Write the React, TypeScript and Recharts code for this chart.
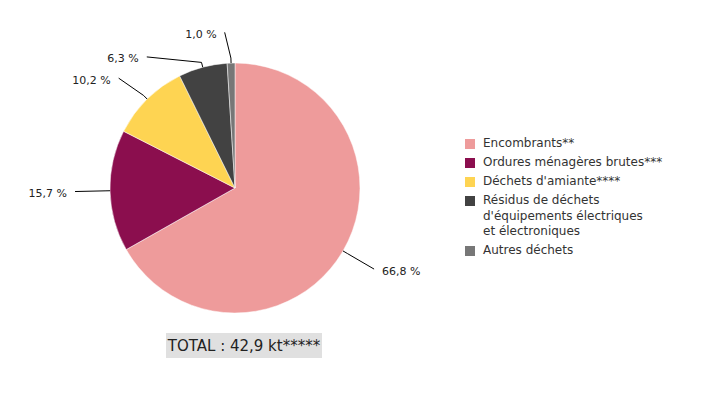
import React from 'react';
import { PieChart, Pie, Cell, Legend } from 'recharts';

// Répartition des déchets (en %)
const categories = [
  'Encombrants**',
  'Ordures ménagères brutes***',
  "Déchets d'amiante****",
  'Résidus de déchets\nd\'équipements électriques\net électroniques',
  'Autres déchets',
];
const valeurs = [66.8, 15.7, 10.2, 6.3, 1.0];
const etiquettes = ['66,8 %', '15,7 %', '10,2 %', '6,3 %', '1,0 %'];
const COLORS = ['#ee9b9b', '#8b0e4e', '#fed452', '#424242', '#777777'];
const TOTAL = 'TOTAL : 42,9 kt*****';

// placement des étiquettes : décalage angulaire (degrés) et longueur du trait
const LABEL_SHIFT = [0, 0, 2, 19, 2];
const LABEL_LEN = [36, 35, 35, 33, 31];

const data = categories.map((name, i) => ({ name, value: valeurs[i] }));

const RAD = Math.PI / 180;
const FONT = '"DejaVu Sans", sans-serif';

function renderLabel(props: any) {
  const { cx, cy, midAngle, outerRadius, index } = props;
  const a0 = midAngle;
  const a1 = midAngle + LABEL_SHIFT[index];
  const p0 = [cx + outerRadius * Math.cos(-a0 * RAD), cy + outerRadius * Math.sin(-a0 * RAD)];
  const pm = [cx + (outerRadius + 5) * Math.cos(-a0 * RAD), cy + (outerRadius + 5) * Math.sin(-a0 * RAD)];
  const r2 = outerRadius + LABEL_LEN[index];
  const p1 = [cx + r2 * Math.cos(-a1 * RAD), cy + r2 * Math.sin(-a1 * RAD)];
  const right = Math.cos(-a1 * RAD) > 0;
  return (
    <g key={`lbl-${index}`}>
      <polyline
        points={`${p0[0]},${p0[1]} ${pm[0]},${pm[1]} ${p1[0]},${p1[1]}`}
        fill="none"
        stroke="#000"
        strokeWidth={1}
      />
      <text
        x={p1[0] + (right ? 8 : -8)}
        y={p1[1] + 2}
        textAnchor={right ? 'start' : 'end'}
        dominantBaseline="central"
        fontSize={11}
        fontFamily={FONT}
        fill="#222"
      >
        {etiquettes[index]}
      </text>
    </g>
  );
}

function LegendeContent() {
  return (
    <div style={{ fontFamily: FONT, fontSize: 12, color: '#333', lineHeight: '15.5px' }}>
      {categories.map((c, i) => (
        <div key={c} style={{ display: 'flex', alignItems: 'flex-start', marginBottom: 3.6 }}>
          <span
            style={{
              display: 'inline-block',
              width: 10,
              height: 10,
              background: COLORS[i],
              marginTop: 3,
              marginRight: 8,
              flex: 'none',
            }}
          />
          <span style={{ whiteSpace: 'pre' }}>{c}</span>
        </div>
      ))}
    </div>
  );
}

export default function App() {
  return (
    <div style={{ position: 'absolute', left: 0, top: 0, width: 725, height: 400, background: '#fff' }}>
      <PieChart width={725} height={400}>
        <Pie
          data={data}
          dataKey="value"
          nameKey="name"
          cx={230}
          cy={183}
          outerRadius={125}
          startAngle={90}
          endAngle={-270}
          stroke="#fff"
          strokeWidth={0.5}
          label={renderLabel}
          labelLine={false}
          isAnimationActive={false}
        >
          {data.map((_, i) => (
            <Cell key={i} fill={COLORS[i]} />
          ))}
        </Pie>
        <Legend
          content={<LegendeContent />}
          wrapperStyle={{ position: 'absolute', left: 465, top: 136, width: 240 }}
        />
      </PieChart>
      <div
        style={{
          position: 'absolute',
          left: 166,
          top: 333,
          width: 156,
          height: 25,
          background: '#e0e0e0',
          fontFamily: FONT,
          fontSize: 15,
          color: '#222',
          display: 'flex',
          alignItems: 'center',
          justifyContent: 'center',
          whiteSpace: 'nowrap',
        }}
      >
        {TOTAL}
      </div>
    </div>
  );
}
